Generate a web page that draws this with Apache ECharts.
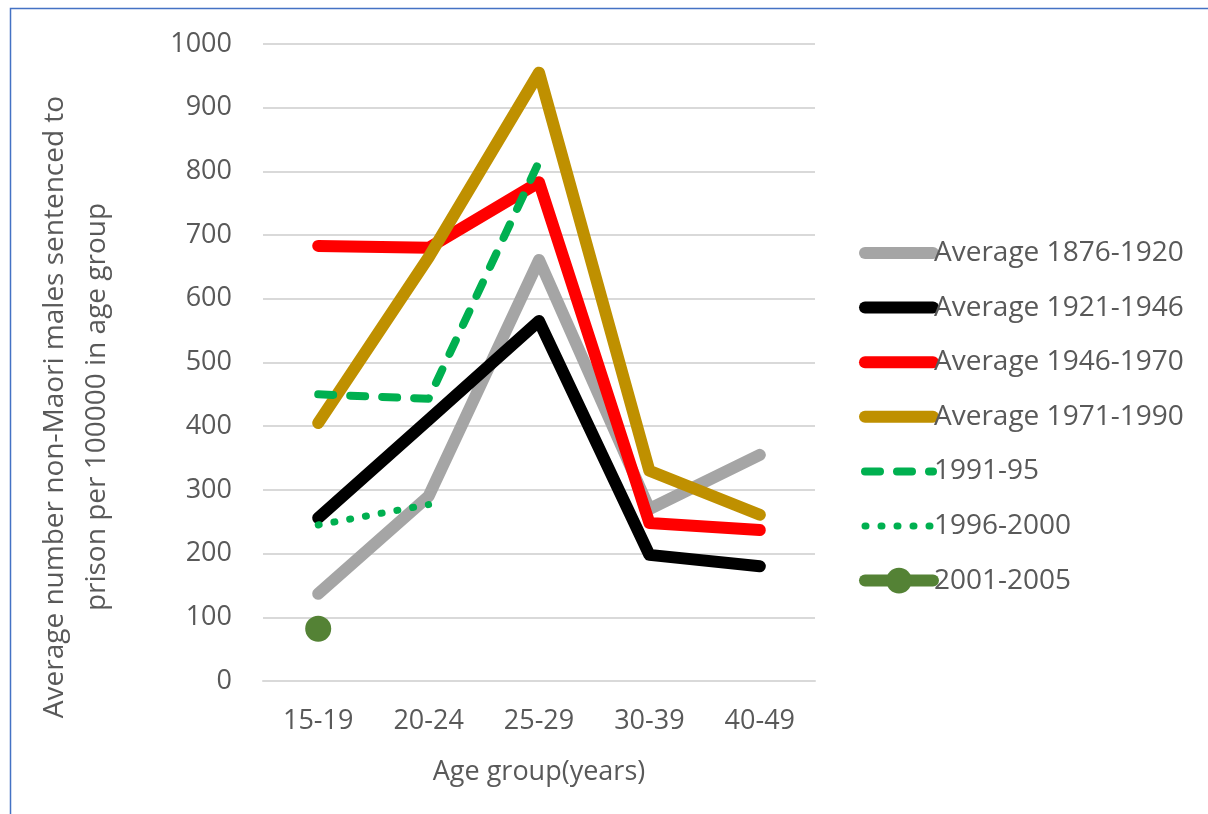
<!DOCTYPE html>
<html>
<head>
<meta charset="utf-8">
<script src="https://cdn.jsdelivr.net/npm/echarts@6/dist/echarts.min.js"></script>
<style>
  html, body { margin: 0; padding: 0; background: #ffffff; }
  #chart { width: 1208px; height: 814px; }
</style>
</head>
<body>
<div id="chart"></div>
<script>
// Age groups on the category axis
const ageGroups = ['15-19', '20-24', '25-29', '30-39', '40-49'];

// Sentencing rate per 100000 non-Maori males, by period
const avg1876_1920 = [137, 290, 661, 270, 355];
const avg1921_1946 = [256, 410, 565, 198, 180];
const avg1946_1970 = [683, 680, 783, 248, 237];
const avg1971_1990 = [405, 665, 955, 330, 261];
const p1991_95 = [450, 443, 815, null, null];
const p1996_2000 = [245, 277, null, null, null];
const p2001_2005 = [82, null, null, null, null];

const yTicks = { min: 0, max: 1000, interval: 100 };

const textGrey = '#595959';
const fontFamily = '"Open Sans", "Noto Sans", sans-serif';
const hidden = 'rgba(0,0,0,0)';

const chart = echarts.init(document.getElementById('chart'), null, { renderer: 'canvas' });

function solid(name, data, color) {
  return {
    name, type: 'line', data,
    symbol: 'none', showSymbol: false,
    lineStyle: { color, width: 12, cap: 'round', join: 'round' },
    itemStyle: { color },
    emphasis: { disabled: true },
    z: 2
  };
}

// Legend entries: thick line swatches; only the last one carries a marker
function legendItem(name, width, withMarker) {
  return {
    name,
    lineStyle: { width, cap: 'round' },
    itemStyle: withMarker ? {} : { color: hidden, borderColor: hidden, borderWidth: 0 }
  };
}

const option = {
  animation: false,
  backgroundColor: '#ffffff',
  grid: { left: 263, right: 393, top: 44, bottom: 133, containLabel: false },
  xAxis: {
    type: 'category',
    data: ageGroups,
    boundaryGap: true,
    name: 'Age group(years)',
    nameLocation: 'middle',
    nameGap: 78,
    nameTextStyle: { color: textGrey, fontSize: 27, fontFamily },
    axisLine: { show: true, lineStyle: { color: '#d9d9d9', width: 2 } },
    axisTick: { show: false },
    axisLabel: { color: textGrey, fontSize: 27, fontFamily, margin: 27 }
  },
  yAxis: {
    type: 'value',
    min: yTicks.min, max: yTicks.max, interval: yTicks.interval,
    axisLine: { show: false },
    axisTick: { show: false },
    axisLabel: { color: textGrey, fontSize: 27, fontFamily, margin: 31, formatter: v => String(v) },
    splitLine: { show: true, lineStyle: { color: '#d9d9d9', width: 2 } }
  },
  legend: {
    orient: 'vertical',
    left: 859,
    top: 238,
    padding: 0,
    itemWidth: 68,
    itemHeight: 32,
    itemGap: 24.6,
    textStyle: { color: textGrey, fontSize: 28, fontFamily, lineHeight: 30, padding: [0, 0, 0, -4] },
    data: [
      legendItem('Average 1876-1920', 12, false),
      legendItem('Average 1921-1946', 12, false),
      legendItem('Average 1946-1970', 12, false),
      legendItem('Average 1971-1990', 12, false),
      legendItem('1991-95', 8, false),
      legendItem('1996-2000', 7, false),
      legendItem('2001-2005', 12, true)
    ]
  },
  graphic: [
    {
      type: 'rect',
      shape: { x: 10.5, y: 8.5, width: 1300, height: 900 },
      style: { fill: 'none', stroke: '#4472C4', lineWidth: 1.5 },
      silent: true, z: 100
    },
    {
      type: 'text',
      x: 76, y: 407,
      rotation: Math.PI / 2,
      style: {
        text: 'Average number non-Maori males sentenced to\nprison per 100000 in age group',
        fill: textGrey,
        font: '28px ' + fontFamily,
        align: 'center',
        verticalAlign: 'middle',
        lineHeight: 42
      },
      silent: true
    }
  ],
  series: [
    solid('Average 1876-1920', avg1876_1920, '#A5A5A5'),
    solid('Average 1921-1946', avg1921_1946, '#000000'),
    solid('Average 1946-1970', avg1946_1970, '#FF0000'),
    solid('Average 1971-1990', avg1971_1990, '#BF9000'),
    {
      name: '1991-95', type: 'line', data: p1991_95,
      symbol: 'none', showSymbol: false,
      lineStyle: { color: '#00B050', width: 8, type: [15, 17], cap: 'round', join: 'round' },
      itemStyle: { color: '#00B050' },
      emphasis: { disabled: true },
      z: 3
    },
    {
      name: '1996-2000', type: 'line', data: p1996_2000,
      symbol: 'none', showSymbol: false,
      lineStyle: { color: '#00B050', width: 7, type: [1, 15], cap: 'round', join: 'round' },
      itemStyle: { color: '#00B050' },
      emphasis: { disabled: true },
      z: 3
    },
    {
      name: '2001-2005', type: 'line', data: p2001_2005,
      symbol: 'circle', symbolSize: 26, showSymbol: true,
      lineStyle: { color: '#548235', width: 12, cap: 'round' },
      itemStyle: { color: '#548235' },
      emphasis: { disabled: true },
      z: 3
    }
  ]
};

chart.setOption(option);
</script>
</body>
</html>
